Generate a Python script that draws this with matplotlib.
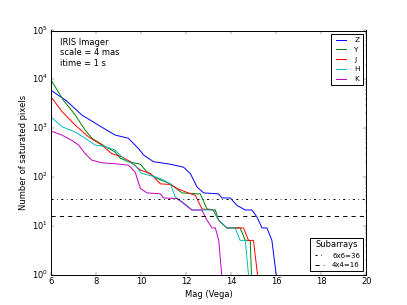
import matplotlib
matplotlib.use("Agg")
import matplotlib.pyplot as plt

plt.style.use("classic")

# magnitudes and saturated pixel counts per band
z_mag = [6.0, 6.7, 7.37, 8.11, 8.85, 9.44, 9.89, 10.12, 10.33, 10.56, 11.3, 11.89, 12.19, 12.49,
         12.78, 13.44, 13.59, 13.96, 14.26, 14.63, 14.92, 15.15, 15.37, 15.59, 15.81, 16.0]
z_pix = [6000, 3600, 1860, 1150, 720, 620, 380, 280, 240, 205, 182, 158, 117, 62,
         47, 45, 37, 37, 26, 21, 21, 15, 9, 9, 5, 1]

y_mag = [6.0, 6.56, 7.08, 7.52, 7.82, 8.41, 8.85, 9.09, 9.44, 9.97, 10.27, 10.71, 11.3, 11.82,
         12.49, 12.63, 12.93, 13.3, 13.44, 13.81, 14.4, 14.63, 14.85, 14.9]
y_pix = [9800, 3700, 1860, 910, 620, 420, 325, 240, 205, 182, 126, 93, 72, 47,
         45, 45, 22, 21, 13, 9, 9, 5, 5, 1]

j_mag = [6.0, 6.49, 7.08, 7.67, 8.26, 8.7, 9.15, 9.53, 9.97, 10.42, 10.86, 11.3, 11.6, 12.04,
         12.41, 12.71, 13.2, 13.44, 13.81, 14.55, 14.77, 14.99, 15.17]
j_pix = [4400, 2200, 1150, 660, 450, 300, 257, 205, 138, 117, 72, 70, 58, 48,
         42, 22, 21, 13, 9, 9, 5, 5, 1]

h_mag = [6.0, 6.49, 7.08, 7.52, 7.97, 8.41, 8.85, 9.29, 9.74, 10.0, 10.86, 11.3, 11.52, 12.04,
         12.26, 13.22, 13.44, 13.81, 14.18, 14.4, 14.63, 14.77]
h_pix = [1700, 1070, 830, 620, 450, 420, 355, 220, 175, 120, 93, 72, 39, 26,
         21, 21, 13, 9, 9, 5, 5, 1]

k_mag = [6.0, 6.49, 6.93, 7.23, 7.52, 7.82, 8.26, 8.85, 9.44, 9.74, 9.97, 10.27, 10.86, 11.0,
         11.6, 12.26, 12.7, 12.93, 13.15, 13.3, 13.45, 13.58]
k_pix = [870, 720, 560, 450, 300, 220, 195, 186, 174, 126, 58, 47, 45, 37,
         36, 21, 21, 13, 9, 9, 5, 1]

bands = ["Z", "Y", "J", "H", "K"]
colors = ["b", "g", "r", "c", "m"]
mags = [z_mag, y_mag, j_mag, h_mag, k_mag]
pixs = [z_pix, y_pix, j_pix, h_pix, k_pix]

subarray_labels = ["6x6=36", "4x4=16"]
subarray_sizes = [36, 16]
subarray_styles = ["-.", "--"]

fig = plt.figure(figsize=(8.14, 6.1), dpi=50)
ax = fig.add_subplot(111)

band_lines = []
for b, c, m, p in zip(bands, colors, mags, pixs):
    l, = ax.semilogy(m, p, color=c, label=b, lw=1.4)
    band_lines.append(l)

sub_lines = []
for lab, s, ls in zip(subarray_labels, subarray_sizes, subarray_styles):
    l = ax.axhline(s, color="k", linestyle=ls, label=lab, lw=1.4)
    sub_lines.append(l)

ax.set_xlim(6, 20)
ax.set_ylim(1, 1e5)
ax.set_xlabel("Mag (Vega)")
ax.set_ylabel("Number of saturated pixels")
for s in ax.spines.values():
    s.set_linewidth(1.4)

ax.text(0.03, 0.97, "IRIS Imager\nscale = 4 mas\nitime = 1 s",
        transform=ax.transAxes, ha="left", va="top")

leg1 = ax.legend(handles=band_lines, loc="upper right", fontsize=10.5)
leg1.get_frame().set_linewidth(1.4)
ax.add_artist(leg1)
leg2 = ax.legend(handles=sub_lines, loc="lower right", fontsize=10, title="Subarrays")
leg2.get_title().set_fontsize(12)
leg2.get_frame().set_linewidth(1.4)

fig.savefig("out.png", dpi=50)
